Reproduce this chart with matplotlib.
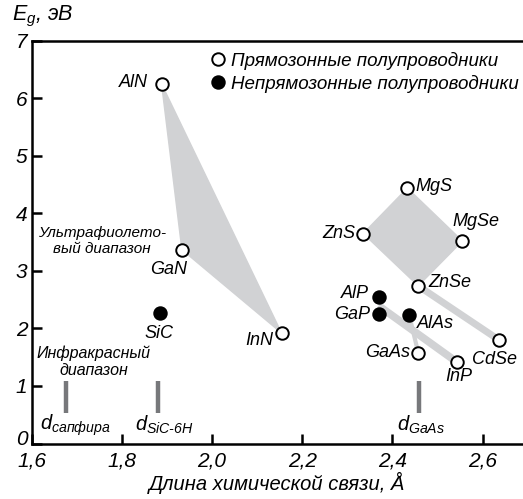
import matplotlib
matplotlib.use("Agg")
import matplotlib.pyplot as plt
import matplotlib.transforms as mtransforms
from matplotlib.lines import Line2D
from matplotlib.patches import Polygon

FAM = 'Liberation Sans'
plt.rcParams['font.family'] = FAM
plt.rcParams['font.style'] = 'italic'
plt.rcParams['mathtext.fontset'] = 'custom'
plt.rcParams['mathtext.rm'] = 'Liberation Sans:italic'
plt.rcParams['mathtext.it'] = 'Liberation Sans:italic'
plt.rcParams['mathtext.bf'] = 'Liberation Sans:italic'
plt.rcParams['mathtext.sf'] = 'Liberation Sans:italic'

# ---- data ----
names = ['AlN', 'GaN', 'InN', 'SiC', 'ZnS', 'MgS', 'MgSe', 'ZnSe',
         'AlP', 'GaP', 'AlAs', 'GaAs', 'CdSe', 'InP']
bond = [1.888, 1.933, 2.154, 1.884, 2.335, 2.433, 2.555, 2.457,
        2.369, 2.369, 2.437, 2.457, 2.636, 2.542]
gap = [6.25, 3.37, 1.92, 2.26, 3.65, 4.44, 3.52, 2.74,
       2.54, 2.25, 2.23, 1.58, 1.80, 1.42]
direct = [True, True, True, False, True, True, True, True,
          False, False, False, True, True, True]

substrate_x = [1.675, 1.881, 2.459]
substrate_y = [0.53, 1.09]
substrate_labels = [r'$d_{сапфира}$', r'$d_{SiC\text{-}6H}$', r'$d_{GaAs}$']

xticks = [1.6, 1.8, 2.0, 2.2, 2.4, 2.6]
xtick_labels = ['1,6', '1,8', '2,0', '2,2', '2,4', '2,6']
yticks = [0, 1, 2, 3, 4, 5, 6, 7]

# label offsets (pixels) and alignment
label_style = {
    'AlN': (-14, 1, 'right'), 'GaN': (-13, -20, 'center'), 'InN': (-8, -7, 'right'),
    'SiC': (-1, -20, 'center'), 'ZnS': (-8, 0, 'right'), 'MgS': (8, 2, 'left'),
    'MgSe': (-10, 19, 'left'), 'ZnSe': (10, 3, 'left'), 'AlP': (-10, 4, 'right'),
    'GaP': (-8, 0, 'right'), 'AlAs': (8, -8, 'left'), 'GaAs': (-8, 0, 'right'),
    'CdSe': (-27, -20, 'left'), 'InP': (2, -15, 'center'),
}
sub_off = [(-26, -12), (-23, -12), (-22, -12)]

W, H, DPI = 523, 499, 100
fig = plt.figure(figsize=(W / DPI, H / DPI), dpi=DPI)
ax = fig.add_axes([31.7 / W, 1 - 443.5 / H, 1 - 31.7 / W, (443.5 - 40.8) / H])
ax.set_xlim(1.6, 1.6 + (W - 31.7) / 451)
ax.set_ylim(0, 7)

pt = dict(zip(names, zip(bond, gap)))
gray = '#d1d2d4'

def poly(keys):
    ax.add_patch(Polygon([pt[k] for k in keys], closed=True, facecolor=gray,
                         edgecolor=gray, lw=1, zorder=1))

poly(['AlN', 'GaN', 'InN'])
poly(['MgS', 'MgSe', 'ZnSe', 'ZnS'])
ax.plot([pt['ZnSe'][0], pt['CdSe'][0]], [pt['ZnSe'][1], pt['CdSe'][1]],
        color=gray, lw=5, solid_capstyle='butt', zorder=1)
mid = ((pt['AlP'][0] + pt['GaP'][0]) / 2, (pt['AlP'][1] + pt['GaP'][1]) / 2)
ax.plot([mid[0], pt['InP'][0]], [mid[1], pt['InP'][1]],
        color=gray, lw=5.5, solid_capstyle='butt', zorder=1)
ax.plot([pt['AlAs'][0], pt['GaAs'][0]], [pt['AlAs'][1], pt['GaAs'][1]],
        color=gray, lw=3, solid_capstyle='butt', zorder=1)

for n, x, y, d in zip(names, bond, gap, direct):
    ax.plot(x, y, 'o', ms=9, mfc='white' if d else 'black', mec='black',
            mew=1.4, zorder=3)
    dx, dy, ha = label_style[n]
    ax.annotate(n, (x, y), xytext=(dx * 0.72, dy * 0.72), textcoords='offset points',
                ha=ha, va='center', fontsize=13, family=FAM, style='italic')

for x, lab, (dx, dy) in zip(substrate_x, substrate_labels, sub_off):
    ax.plot([x, x], substrate_y, color='#77787b', lw=3.2, solid_capstyle='butt', zorder=2)
    ax.annotate(lab, (x, substrate_y[0]), xytext=(dx * 0.72, dy * 0.72),
                textcoords='offset points', ha='left', va='center', fontsize=14.5)

ax.text(1.756, 3.52, 'Ультрафиолето-\nвый диапазон', ha='center', va='center',
        fontsize=11, linespacing=1.2, family=FAM, style='italic')
ax.text(1.738, 1.42, 'Инфракрасный\nдиапазон', ha='center', va='center',
        fontsize=11.5, linespacing=1.15, family=FAM, style='italic')

handles = [Line2D([], [], ls='none', marker='o', ms=9, mfc='white', mec='black', mew=1.4),
           Line2D([], [], ls='none', marker='o', ms=9, mfc='black', mec='black', mew=1.4)]
ax.legend(handles, ['Прямозонные полупроводники', 'Непрямозонные полупроводники'],
          loc='upper left', bbox_to_anchor=((212 - 31.7) / (W - 31.7), 1 - (52 - 40.8) / 402.7),
          frameon=False, prop={'family': FAM, 'style': 'italic', 'size': 13.5},
          handlelength=0.6, handletextpad=0.4,
          labelspacing=0.25, borderpad=0, borderaxespad=0)

ax.spines['right'].set_visible(False)
for s in ['left', 'bottom', 'top']:
    ax.spines[s].set_linewidth(1.8)
ax.set_xticks(xticks)
ax.set_xticklabels(xtick_labels)
ax.set_yticks(yticks)
ax.tick_params(direction='in', length=7, width=1.8, labelsize=15)
ax.tick_params(axis='x', pad=6)
ax.tick_params(axis='y', pad=3)
for lab in ax.get_xticklabels() + ax.get_yticklabels():
    lab.set_family(FAM)
    lab.set_style('italic')
# nudge the "0" label slightly upward, as in the reference
zero_lab = ax.get_yticklabels()[0]
zero_lab.set_transform(zero_lab.get_transform() +
                       mtransforms.ScaledTranslation(0, 4 / 72, fig.dpi_scale_trans))

ax.set_xlabel('Длина химической связи, Å', fontsize=14.5, labelpad=1,
              family=FAM, style='italic')
fig.text(12 / W, 1 - 16 / H, r'$E_g$, эВ', fontsize=15.5, ha='left', va='center',
         family=FAM, style='italic')

fig.savefig('out.png', dpi=DPI)
